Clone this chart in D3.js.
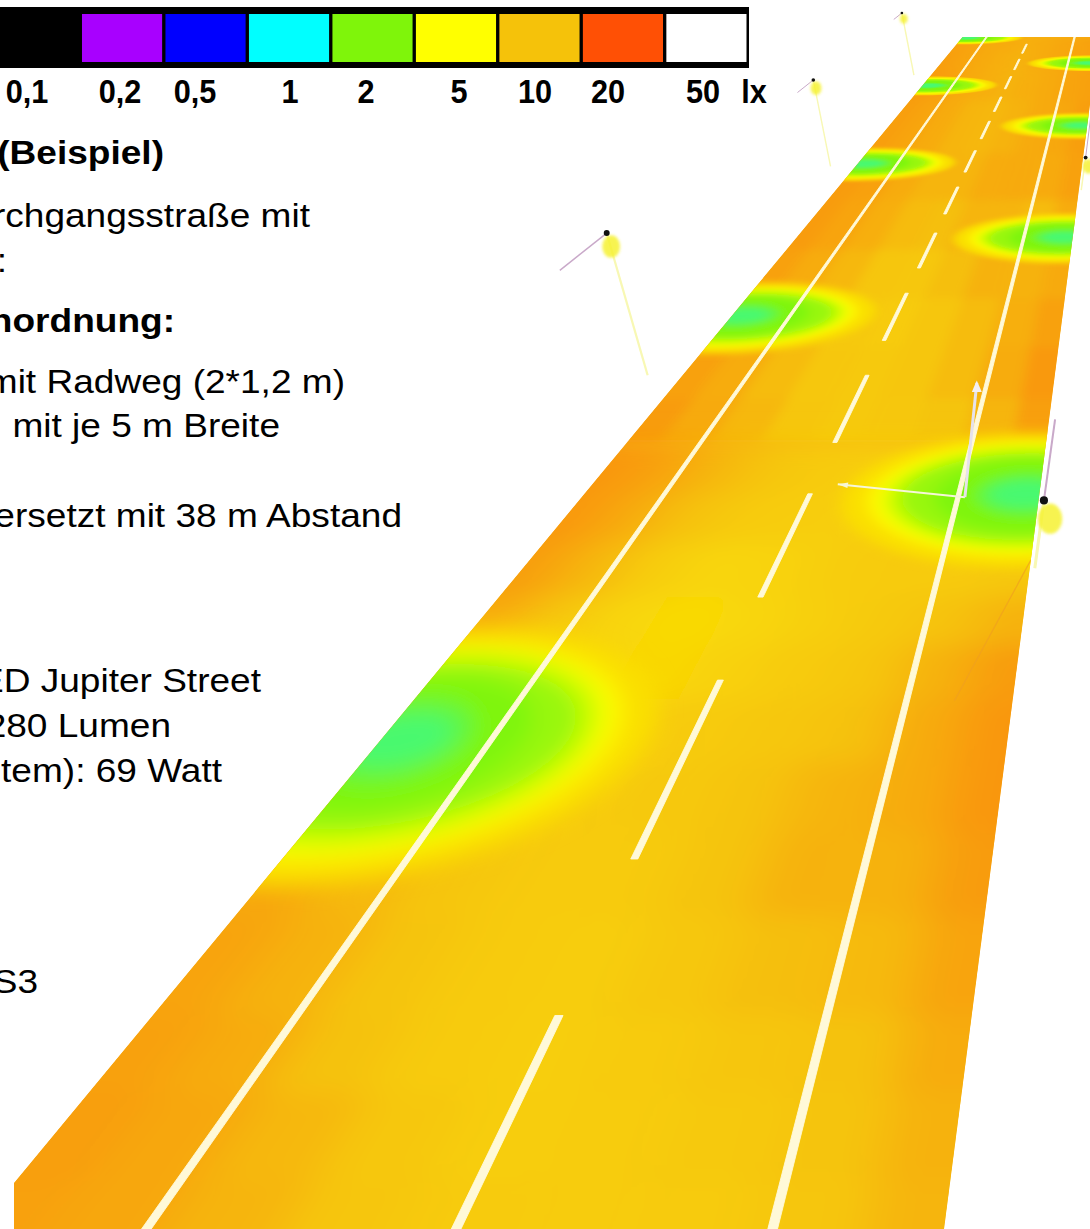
<!DOCTYPE html>
<html>
<head>
<meta charset="utf-8">
<style>
html,body{margin:0;padding:0;background:#fff;overflow:hidden}
svg{display:block}
text{font-family:"Liberation Sans",Arial,sans-serif;fill:#000}
</style>
<script src="https://cdn.jsdelivr.net/npm/d3@7"></script>
</head>
<body>
<svg></svg>
<script>
// legend
const legendColors = ['#000000','#a800ff','#0000ff','#00ffff','#7ff50a','#ffff00','#f5c20a','#ff5005','#ffffff'];
const legendLabels = ['0,1','0,2','0,5','1','2','5','10','20','50','lx'];

// lux scale of the false colours
const luxStops = [1,2,5,10,20];
const luxColors = ['#00ffff','#7ff50a','#ffff00','#f5c20a','#ff5005'];

// text column
const bodyLines = ['(Beispiel)','rchgangsstraße mit',':','nordnung:','mit Radweg (2*1,2 m)','mit je 5 m Breite',
                   'ersetzt mit 38 m Abstand','LED Jupiter Street','280 Lumen','tem): 69 Watt','S3'];
const bodyBold = ['(Beispiel)','nordnung:'];

// lamps, stations in metres along the road
const lampStations = [15,31,53,69,91,107,129,145,167];
const lampSide = ['L','R','L','R','L','R','L','R','L'];

// iso lux rings round each lamp
const ringLux = [7.2,5.5,4.5,3.2,2.4,2,1.7,1.5];
const ringAcross = [.40,.345,.32,.30,.27,.20,.11,.08];
const ringAlong = [6,5.1,4.8,4.4,3.9,3.2,1.9,1.2];

// background lux, read row by row from the road
const rowStations = [-6,1,3,5,8,11,14,17,20,23,27,31,36,41,48,56,66,79,95,120,140,155,170];
const colEdges = [-.15,.08,.2,.32,.44,.56,.68,.8,.92,1.15];
const lux = [
  [12.2,11.8,10.8,9.6,9,8.9,9,9.6,10.8],
  [12.4,11.8,10.6,9.4,8.8,8.9,9.2,9.8,11],
  [12.2,11.4,10,9,8.7,9,9.6,10,11.4],
  [12,11,9.8,9,8.8,9.4,10.2,10.5,12],
  [11.8,10.6,9.6,9,9,9.8,11,11,12.6],
  [11.6,10.4,9.4,9,9.2,9.8,10.8,11.4,13],
  [11.4,10,9,8.8,9,9.4,10,11.4,13],
  [11,9.6,8.2,7.8,8.4,9,9.6,11,12.6],
  [11.4,9.4,8,7.6,8,8.6,9.2,10,11],
  [12.4,10.6,8.8,8,8.2,8.8,9,9,9.4],
  [12.8,11.4,10,9,8.8,8.6,8.8,9,10.2],
  [13,12,10.6,9.6,9,8.8,9,9.6,11.2],
  [12.6,11.6,10.6,9.6,9.2,9.4,9.8,10.8,12.4],
  [12.2,11.4,10.4,9.4,9.2,9.6,10.4,11.4,12.8],
  [12,11,10,9.2,9,9.6,10.4,11.2,12.2],
  [12.2,11.4,10.6,9.6,9.4,10.2,11,11,11.6],
  [12.6,12,11.2,10.4,10.2,10.8,10.8,10.4,11.4],
  [12.6,12.2,11.4,10.8,10.8,11.4,11.6,11.6,12.2],
  [12.4,12,11.4,10.8,10.6,11,11.6,11.8,12.4],
  [12.6,12.2,11.6,11.2,11,11.2,11.6,12,12.2],
  [12.4,12,11.6,11.2,11,11.4,11.8,12,12.2],
  [12.2,12,11.6,11.4,11.2,11.4,11.8,12,12.2]
];

// marked lines, fraction across the road
const edgeLinesAcross = [.176,.823];
const centreAcross = .496;
const dashStart = [-3,10,23,36,49,62,75,88,101,114,127,140,153];
const dashEnd = [5,18,31,44,57,70,83,96,109,122,135,148,161];

// masts beside the road
const mastStation = [44,90,136,25,82];
const mastAcross = [-.094,-.11,-.105,1.01,1.01];
const mastSide = ['L','L','L','R','R'];
const mastLean = [-.11,-.076,-.074,.018,.018];
const mastArm = [-.126,-.07,-.05,.022,.02];

const width = 1090, height = 1229;
const svg = d3.select('svg').attr('width',width).attr('height',height);
const defs = svg.append('defs');

const vanishX = 1124, vanishY = -158, bottomY = 1229;
const roadEnd = 168;
const invDepth = d3.scaleLinear().domain([0,roadEnd]).range([1/(bottomY-vanishY),1/(37-vanishY)]);
const yAt = s => vanishY + 1/invDepth(s);
const leftEdge = d3.scaleLinear().domain([vanishY,bottomY]).range([vanishX,-24]);
const rightEdge = d3.scaleLinear().domain([vanishY,bottomY]).range([vanishX,944]);
const roadWidth = s => rightEdge(yAt(s)) - leftEdge(yAt(s));
const xAt = (u,s) => d3.scaleLinear().domain([0,1]).range([leftEdge(yAt(s)),rightEdge(yAt(s))])(u);
const project = (u,s) => [xAt(u,s),yAt(s)];
const quad = (u0,u1,s0,s1) => [project(u0,s0),project(u1,s0),project(u1,s1),project(u0,s1)];
const pathOf = pts => 'M' + pts.map(p => p.join(',')).join('L') + 'Z';

const luxColor = d3.scaleLog().domain(luxStops).range(luxColors).clamp(true);

function blur(id,sx,sy){
  defs.append('filter').attr('id',id)
      .attr('x','-30%').attr('y','-30%').attr('width','160%').attr('height','160%')
      .append('feGaussianBlur').attr('stdDeviation',sx+' '+sy);
  return 'url(#'+id+')';
}

// road surface
defs.append('clipPath').attr('id','road').append('path').attr('d',pathOf(quad(0,1,-6,roadEnd)));
const road = svg.append('g').attr('clip-path','url(#road)');
road.append('path').attr('d',pathOf(quad(0,1,-6,roadEnd))).attr('fill',luxColor(10.8));

const cells = [];
lux.forEach((row,i) => row.forEach((v,j) => cells.push({i,j,v})));
const nearCells = cells.filter(d => rowStations[d.i] < 36);
const farCells = cells.filter(d => rowStations[d.i] >= 36);
const cellPath = d => pathOf(quad(colEdges[d.j],colEdges[d.j+1],rowStations[d.i],rowStations[d.i+1]+.3));

road.append('g').attr('filter',blur('far',6,4))
    .selectAll('path').data(farCells).join('path')
    .attr('d',cellPath).attr('fill',d => luxColor(d.v));
road.append('g').attr('filter',blur('near',24,12))
    .selectAll('path').data(nearCells).join('path')
    .attr('d',cellPath).attr('fill',d => luxColor(d.v));

// light pools
const angles = d3.range(0,360,8).map(d => d*Math.PI/180);
const lamps = lampStations.map((s,i) => ({s,side:lampSide[i],i}));
const pool = road.selectAll('g.pool').data(lamps).join('g').attr('class','pool')
    .attr('filter',d => {
      const w = roadWidth(d.s);
      const along = Math.abs(yAt(d.s+.5)-yAt(d.s-.5));
      return blur('pool'+d.i,(w*.017).toFixed(2),(along*.5).toFixed(2));
    });
pool.selectAll('path').data(d => ringLux.map((v,k) => ({lamp:d,v,k}))).join('path')
    .attr('fill',d => luxColor(d.v))
    .attr('d',d => {
      const cu = d.lamp.side === 'L' ? .03 : .97;
      return pathOf(angles.map(a => project(cu + ringAcross[d.k]*Math.cos(a), d.lamp.s + ringAlong[d.k]*Math.sin(a))));
    });

// thin guide line on the kerb side
road.append('line')
    .attr('x1',project(1,25.6)[0]).attr('y1',project(1,25.6)[1])
    .attr('x2',project(.903,16.9)[0]).attr('y2',project(.903,16.9)[1])
    .attr('stroke','#f0a020').attr('stroke-width',1.2).attr('opacity',.7);

// road markings
const lineColor = '#fff9d8';
edgeLinesAcross.forEach(u => {
  road.append('path').attr('d',pathOf(quad(u-.005,u+.005,-6,roadEnd)))
      .attr('fill',lineColor).attr('stroke',lineColor).attr('stroke-width',.9);
});
road.selectAll('path.dash').data(dashStart).join('path').attr('class','dash')
    .attr('d',(d,i) => pathOf(quad(centreAcross-.005,centreAcross+.005,d,dashEnd[i])))
    .attr('fill',lineColor).attr('stroke',lineColor).attr('stroke-width',.9);

// road ends at the picture cut on the left
svg.append('rect').attr('x',0).attr('y',1150).attr('width',14).attr('height',79).attr('fill','#fff');

// masts
const mastF = blur('mastBlur',.7,.7);
const blobF = blur('blobBlur',1.6,1.6);
svg.selectAll('g.mast').data(mastStation.map((s,i) => ({s,u:mastAcross[i],side:mastSide[i],lean:mastLean[i],arm:mastArm[i]})))
    .join('g').attr('class','mast').each(function(d){
      const g = d3.select(this);
      const w = roadWidth(d.s);
      const [bx,by] = project(d.u,d.s);
      const hx = bx + d.lean*w;
      const hy = d.side === 'L' ? by-.382*w : by-.134*w;
      g.append('line').attr('x1',bx).attr('y1',by).attr('x2',hx).attr('y2',hy)
       .attr('stroke','#f8f8b4').attr('stroke-width',Math.max(1.4,w*.006)).attr('filter',mastF);
      const armY = d.side === 'L' ? .1*w : -.16*w;
      g.append('line').attr('x1',hx).attr('y1',hy).attr('x2',hx+d.arm*w).attr('y2',hy+(d.side === 'L' ? armY*Math.abs(d.arm)/.126 : armY))
       .attr('stroke','#c9a9c9').attr('stroke-width',Math.max(1,w*.004)).attr('filter',mastF);
      g.append('ellipse').attr('cx',hx+.012*w).attr('cy',hy+.036*w).attr('rx',.024*w).attr('ry',.03*w)
       .attr('fill','#f6f230').attr('opacity',.85).attr('filter',blobF);
      g.append('circle').attr('cx',hx).attr('cy',hy).attr('r',Math.max(1.2,w*.008)).attr('fill','#111');
    });

// axis cross of the lighting program
const gizmoS = 30.7, gizmoU = .838;
const [gx,gy] = project(gizmoU,gizmoS);
const gw = roadWidth(gizmoS);
const gizmo = svg.append('g').attr('filter',mastF);
gizmo.append('line').attr('x1',gx).attr('y1',gy).attr('x2',gx-.278*gw).attr('y2',gy-.028*gw)
     .attr('stroke','#f6f6d8').attr('stroke-width',2);
gizmo.append('line').attr('x1',gx).attr('y1',gy).attr('x2',gx+.026*gw).attr('y2',gy-.25*gw)
     .attr('stroke','#e6e2ea').attr('stroke-width',3);
gizmo.append('path').attr('fill','#f2eff4')
     .attr('d',pathOf([[gx+.026*gw-5,gy-.23*gw],[gx+.026*gw,gy-.255*gw],[gx+.026*gw+5,gy-.23*gw]]));
gizmo.append('path').attr('fill','#f6f6d8')
     .attr('d',pathOf([[gx-.278*gw,gy-.028*gw],[gx-.255*gw,gy-.032*gw],[gx-.257*gw,gy-.02*gw]]));

// legend
svg.append('rect').attr('x',0).attr('y',7).attr('width',749).attr('height',61).attr('fill','#000');
const legendX = d3.scaleBand().domain(legendColors).range([-4,749]).paddingInner(.04).paddingOuter(.03);
svg.selectAll('rect.swatch').data(legendColors).join('rect').attr('class','swatch')
   .attr('x',d => legendX(d)).attr('y',14).attr('width',legendX.bandwidth()).attr('height',48)
   .attr('fill',d => d);

const labelX = d3.scaleOrdinal().domain(legendLabels).range([27,120,195,290,366,459,535,608,703,754]);
svg.selectAll('text.legendLabel').data(legendLabels).join('text').attr('class','legendLabel')
   .attr('text-anchor','middle').attr('font-size',33).attr('font-weight','bold')
   .attr('transform',d => `translate(${labelX(d)},103) scale(.93,1)`)
   .text(d => d);

// text column, right ends
const lineEnd = d3.scaleOrdinal().domain(bodyLines).range([164,310,7,175,345,280,402,261,171,222,38]);
const lineBase = d3.scaleOrdinal().domain(bodyLines).range([164,227,272,332,393,437,527,692,737,782,993]);
svg.selectAll('text.body').data(bodyLines).join('text').attr('class','body')
   .attr('text-anchor','end').attr('font-size',34)
   .attr('font-weight',d => bodyBold.includes(d) ? 'bold' : 'normal')
   .attr('transform',d => `translate(${lineEnd(d)},${lineBase(d)}) scale(1.09,1)`)
   .text(d => d);
</script>
</body>
</html>
